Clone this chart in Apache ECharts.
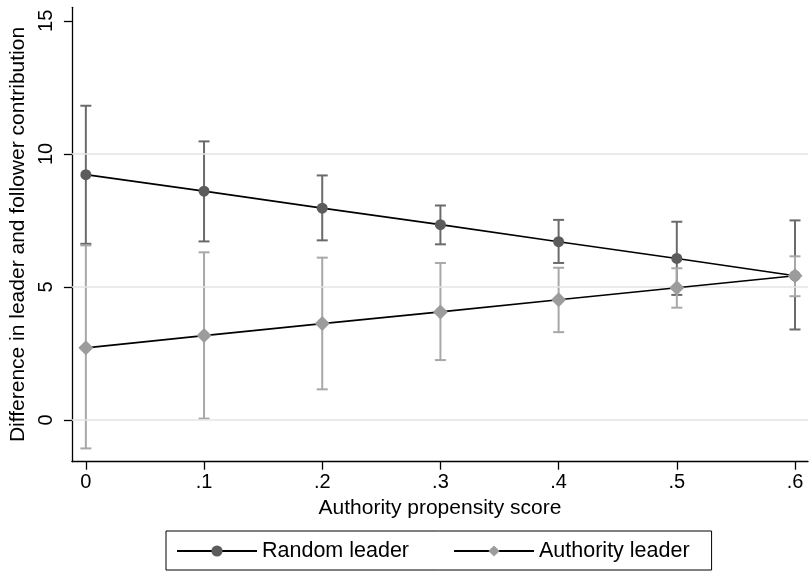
<!DOCTYPE html>
<html>
<head>
<meta charset="utf-8">
<script src="https://cdn.jsdelivr.net/npm/echarts@6/dist/echarts.min.js"></script>
<style>
html,body{margin:0;padding:0;background:#fff;}
#chart{width:809px;height:571px;}
</style>
</head>
<body>
<div id="chart"></div>
<script>
// ---- Data ----
var xValues = [0, 0.1, 0.2, 0.3, 0.4, 0.5, 0.6];
var xTickValues = [0, 0.1, 0.2, 0.3, 0.4, 0.5, 0.6];
var xTickLabels = ['0', '.1', '.2', '.3', '.4', '.5', '.6'];
var yTickValues = [0, 5, 10, 15];
var yTickLabels = ['0', '5', '10', '15'];
var gridValues = [0, 5, 10];

var randomMean = [9.22, 8.60, 7.96, 7.34, 6.70, 6.07, 5.42];
var randomLow  = [6.62, 6.71, 6.75, 6.60, 5.90, 4.70, 3.40];
var randomHigh = [11.81, 10.47, 9.19, 8.06, 7.52, 7.45, 7.50];

var authMean = [2.71, 3.17, 3.62, 4.06, 4.52, 4.97, 5.42];
var authLow  = [-1.07, 0.05, 1.15, 2.25, 3.30, 4.22, 4.65];
var authHigh = [6.56, 6.30, 6.10, 5.90, 5.72, 5.70, 6.15];

var seriesNames = ['Random leader', 'Authority leader'];
var xTitle = 'Authority propensity score';
var yTitle = 'Difference in leader and follower contribution';

// ---- Build options ----
var FONT = "'Liberation Sans', Arial, Helvetica, sans-serif";

function pairs(xs, ys) {
  return xs.map(function (x, i) { return [x, ys[i]]; });
}
function ciData(xs, lo, hi) {
  return xs.map(function (x, i) { return [x, lo[i], hi[i]]; });
}
function makeCapRender(color) {
  return function (params, api) {
    var x = api.value(0);
    var lo = api.coord([x, api.value(1)]);
    var hi = api.coord([x, api.value(2)]);
    var hw = 5.5;
    var style = { stroke: color, lineWidth: 2, fill: null };
    return {
      type: 'group',
      children: [
        { type: 'line', shape: { x1: lo[0], y1: lo[1], x2: hi[0], y2: hi[1] }, style: style },
        { type: 'line', shape: { x1: lo[0] - hw, y1: lo[1], x2: lo[0] + hw, y2: lo[1] }, style: style },
        { type: 'line', shape: { x1: hi[0] - hw, y1: hi[1], x2: hi[0] + hw, y2: hi[1] }, style: style }
      ]
    };
  };
}

var chart = echarts.init(document.getElementById('chart'), null, { renderer: 'canvas' });

var option = {
  animation: false,
  backgroundColor: '#ffffff',
  textStyle: { fontFamily: FONT, color: '#000' },
  grid: { left: 68.3, right: 1, top: 7.3, bottom: 109.3, containLabel: false },
  xAxis: {
    type: 'value',
    min: -0.0118,
    max: 0.611,
    name: xTitle,
    nameLocation: 'middle',
    nameGap: 35,
    nameTextStyle: { fontSize: 21, color: '#000', fontFamily: FONT },
    axisLine: { show: true, onZero: false, lineStyle: { color: '#000', width: 1.3 } },
    axisTick: { show: true, length: 8, customValues: xTickValues, lineStyle: { color: '#000', width: 1.3 } },
    axisLabel: {
      customValues: xTickValues,
      fontSize: 20, color: '#000', margin: 11, fontFamily: FONT,
      formatter: function (v) {
        var i = xTickValues.findIndex(function (t) { return Math.abs(t - v) < 1e-6; });
        return i >= 0 ? xTickLabels[i] : '';
      }
    },
    splitLine: { show: false }
  },
  yAxis: {
    type: 'value',
    min: -1.57,
    max: 15.51,
    name: yTitle,
    nameLocation: 'middle',
    nameGap: 39,
    nameRotate: 90,
    nameTextStyle: { fontSize: 21, color: '#000', fontFamily: FONT },
    axisLine: { show: true, onZero: false, lineStyle: { color: '#000', width: 1.3 } },
    axisTick: { show: true, length: 8, customValues: yTickValues, lineStyle: { color: '#000', width: 1.3 } },
    axisLabel: {
      customValues: yTickValues,
      rotate: 90,
      fontSize: 20, color: '#000', margin: 15, fontFamily: FONT,
      formatter: function (v) {
        var i = yTickValues.findIndex(function (t) { return Math.abs(t - v) < 1e-6; });
        return i >= 0 ? yTickLabels[i] : '';
      }
    },
    splitLine: { show: false }
  },
  legend: {
    show: true,
    data: seriesNames,
    left: 166,
    top: 531,
    orient: 'horizontal',
    padding: [9, 22, 8, 10],
    itemGap: 44,
    itemWidth: 80,
    itemHeight: 14,
    borderColor: '#000',
    borderWidth: 1,
    borderRadius: 0,
    textStyle: { fontSize: 21.5, color: '#000', fontFamily: FONT },
    selectedMode: false
  },
  series: [
    {
      name: 'grid',
      type: 'line',
      data: [],
      z: 0,
      silent: true,
      markLine: {
        silent: true,
        symbol: ['none', 'none'],
        label: { show: false },
        lineStyle: { color: '#e4e4e4', width: 1.6, type: 'solid' },
        emphasis: { disabled: true },
        data: gridValues.map(function (v) { return { yAxis: v }; })
      }
    },
    {
      name: 'Random CI',
      type: 'custom',
      z: 2,
      renderItem: makeCapRender('#6a6a6a'),
      encode: { x: 0, y: [1, 2] },
      data: ciData(xValues, randomLow, randomHigh)
    },
    {
      name: 'Authority CI',
      type: 'custom',
      z: 3,
      renderItem: makeCapRender('#a8a8a8'),
      encode: { x: 0, y: [1, 2] },
      data: ciData(xValues, authLow, authHigh)
    },
    {
      name: seriesNames[0],
      type: 'line',
      z: 4,
      data: pairs(xValues, randomMean),
      symbol: 'circle',
      symbolSize: 11,
      showSymbol: true,
      lineStyle: { color: '#000', width: 1.6 },
      itemStyle: { color: '#5c5c5c' },
      emphasis: { disabled: true }
    },
    {
      name: seriesNames[1],
      type: 'line',
      z: 5,
      data: pairs(xValues, authMean),
      symbol: 'diamond',
      symbolSize: 15,
      showSymbol: true,
      lineStyle: { color: '#000', width: 1.6 },
      itemStyle: { color: '#9c9c9c' },
      emphasis: { disabled: true }
    }
  ]
};

chart.setOption(option);
</script>
</body>
</html>
